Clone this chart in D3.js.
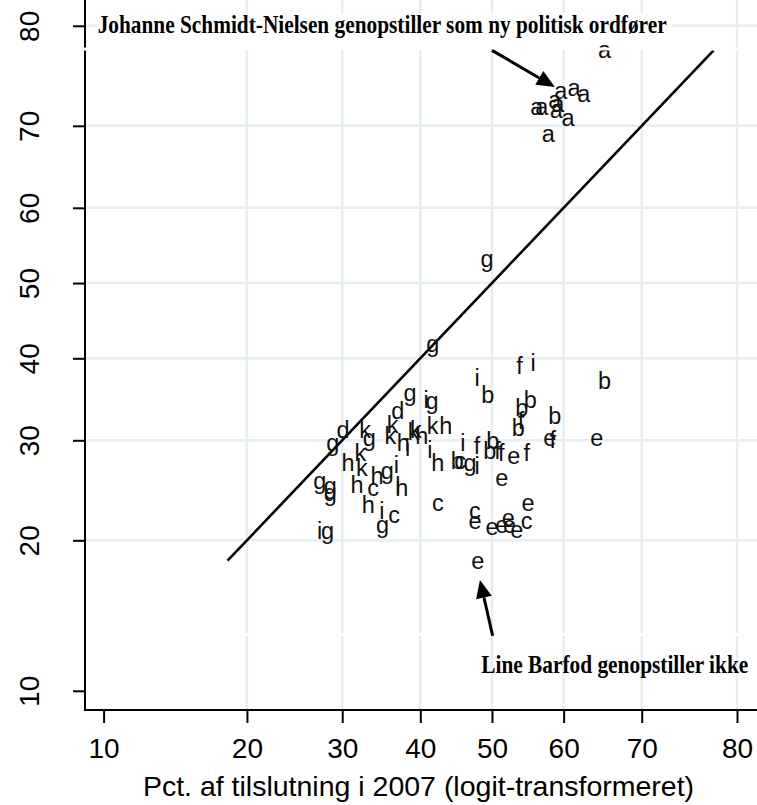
<!DOCTYPE html>
<html>
<head>
<meta charset="utf-8">
<script src="https://cdn.jsdelivr.net/npm/d3@7"></script>
<style>
  body { margin: 0; background: #fff; }
  svg { display: block; }
</style>
</head>
<body>
<div id="chart"></div>
<script>
// Party letter, share in 2007 (x) and share now (y), both in percent
const parties = [
    "a","a","a","a","a","a","a","a","a","a","a",
    "b","b","b","b","b","b","b","b","b",
    "c","c","c","c","c","c",
    "d","d",
    "e","e","e","e","e","e","e","e","e","e","e","e",
    "f","f","f","f","f","f","f",
    "g","g","g","g","g","g","g","g","g","g","g","g","g",
    "h","h","h","h","h","h","h","h","h",
    "i","i","i","i","i","i","i","i","i","i","i",
    "k","k","k","k","k","k","k","k"
];
const pct2007 = [
    65.4, 59.6, 61.4, 62.7, 56.3, 57.0, 58.8, 59.2, 59.0, 60.6, 57.9,
    49.4, 65.4, 55.4, 54.2, 58.8, 53.7, 50.1, 49.7, 45.1,
    33.8, 36.5, 42.4, 45.5, 47.6, 54.9,
    37.0, 30.1,
    58.1, 64.4, 53.1, 51.4, 55.1, 47.6, 50.0, 51.4, 52.3, 52.5, 53.5, 48.0,
    53.9, 54.1, 58.5, 47.9, 50.8, 51.3, 54.9,
    38.6, 41.6, 33.3, 28.9, 35.6, 27.4, 28.6, 28.6, 35.0, 28.3, 49.3, 41.7, 46.9,
    43.5, 37.7, 40.2, 42.4, 30.7, 34.3, 31.8, 37.5, 33.2,
    40.8, 55.8, 47.9, 38.3, 41.3, 36.8, 37.0, 34.9, 27.4, 45.9, 47.9,
    36.3, 39.1, 39.4, 41.7, 36.0, 32.8, 32.2, 32.4
];
const pctNow = [
    77.6, 73.6, 73.9, 73.3, 71.9, 71.9, 72.6, 72.2, 71.5, 70.6, 68.8,
    35.1, 36.8, 34.5, 33.5, 32.6, 31.2, 29.7, 28.6, 27.5,
    24.7, 22.1, 23.2, 27.5, 22.5, 21.5,
    33.2, 30.9,
    30.0, 30.0, 28.0, 25.7, 23.2, 21.5, 21.0, 21.2, 21.8, 21.2, 20.7, 18.1,
    38.7, 32.0, 29.8, 29.1, 28.6, 28.4, 28.4,
    35.4, 34.4, 30.0, 29.5, 26.4, 25.4, 24.9, 24.2, 21.2, 20.6, 53.0, 41.6, 27.3,
    31.4, 29.5, 30.3, 27.3, 27.3, 25.9, 25.0, 24.7, 23.0,
    34.5, 39.1, 37.2, 28.9, 28.7, 27.1, 24.9, 22.5, 20.6, 29.5, 27.0,
    31.5, 30.7, 30.9, 31.4, 30.3, 30.9, 28.4, 26.7
];
const tickLabels = [10, 20, 30, 40, 50, 60, 70, 80];
const gridLabels = [20, 30, 40, 50, 60, 70, 80];
const diagonalRange = [18.3, 77.8];   // y = x reference line

const noteTexts = [
    "Johanne Schmidt-Nielsen genopstiller som ny politisk ordfører",
    "Line Barfod genopstiller ikke"
];
const noteX = [9.7, 81.0];
const noteY = [79.4, 10.9];
const arrowFromX = [50.0, 50.1];
const arrowFromY = [77.8, 13.0];
const arrowToX = [58.8, 48.3];
const arrowToY = [74.2, 16.8];

const xTitle = "Pct. af tilslutning i 2007 (logit-transformeret)";

const width = 757;
const height = 805;

const logit = p => Math.log(p / (100 - p));
const unlogit = v => 100 / (1 + Math.exp(-v));

const x = d3.scaleLinear()
    .domain([logit(10), logit(80)])
    .range([103.6, 737]);
const y = d3.scaleLinear()
    .domain([logit(10), logit(80)])
    .range([690.8, 25.8]);

const left = 85;
const bottom = 710;
const gridColor = "#e6eef1";

const svg = d3.select("#chart")
    .append("svg")
    .attr("width", width)
    .attr("height", height)
    .style("background", "#fff");

// gridlines
svg.append("g")
    .selectAll("line")
    .data(gridLabels)
    .join("line")
    .attr("x1", d => x(logit(d)))
    .attr("x2", d => x(logit(d)))
    .attr("y1", 0)
    .attr("y2", bottom)
    .attr("stroke", gridColor)
    .attr("stroke-width", 2.5);

svg.append("g")
    .selectAll("line")
    .data(gridLabels)
    .join("line")
    .attr("x1", left)
    .attr("x2", width)
    .attr("y1", d => y(logit(d)))
    .attr("y2", d => y(logit(d)))
    .attr("stroke", gridColor)
    .attr("stroke-width", 2.5);

// white strips (text box behind the first note, and a thin band)
svg.append("rect").attr("x", 97).attr("y", 13).attr("width", 575).attr("height", 35).attr("fill", "#fff");
svg.append("rect").attr("x", 86).attr("y", 633).attr("width", width - 86).attr("height", 3).attr("fill", "#fff");

// y = x line
svg.append("line")
    .attr("x1", x(logit(diagonalRange[0])))
    .attr("y1", y(logit(diagonalRange[0])))
    .attr("x2", x(logit(diagonalRange[1])))
    .attr("y2", y(logit(diagonalRange[1])))
    .attr("stroke", "#000")
    .attr("stroke-width", 2.6);

// letter markers
svg.append("g")
    .selectAll("text")
    .data(d3.range(parties.length))
    .join("text")
    .attr("x", i => x(logit(pct2007[i])))
    .attr("y", i => y(logit(pctNow[i])))
    .attr("dy", 6)
    .attr("text-anchor", "middle")
    .attr("font-family", "'Liberation Sans', Arial, sans-serif")
    .attr("font-size", 23.5)
    .attr("fill", "#111")
    .text(i => parties[i]);

// axes
const xAxis = d3.axisBottom(x)
    .tickValues(tickLabels.map(logit))
    .tickFormat(d => Math.round(unlogit(d)))
    .tickSizeInner(13)
    .tickSizeOuter(0)
    .tickPadding(15);

const gx = svg.append("g")
    .attr("transform", `translate(0,${bottom})`)
    .call(xAxis);
gx.select(".domain").remove();
gx.selectAll("line").attr("stroke", "#000").attr("stroke-width", 2);
gx.selectAll("text")
    .attr("font-family", "'Liberation Sans', Arial, sans-serif")
    .attr("font-size", 28)
    .attr("fill", "#000");

const yAxis = d3.axisLeft(y)
    .tickValues(tickLabels.map(logit))
    .tickFormat(d => Math.round(unlogit(d)))
    .tickSizeInner(12)
    .tickSizeOuter(0);

const gy = svg.append("g")
    .attr("transform", `translate(${left},0)`)
    .call(yAxis);
gy.select(".domain").remove();
gy.selectAll("line").attr("stroke", "#000").attr("stroke-width", 2);
gy.selectAll("text")
    .attr("x", 0)
    .attr("y", -46)
    .attr("dy", 0)
    .attr("transform", "rotate(-90)")
    .attr("text-anchor", "middle")
    .attr("font-family", "'Liberation Sans', Arial, sans-serif")
    .attr("font-size", 28)
    .attr("fill", "#000");

svg.append("line")
    .attr("x1", left).attr("x2", width)
    .attr("y1", bottom).attr("y2", bottom)
    .attr("stroke", "#000").attr("stroke-width", 2);
svg.append("line")
    .attr("x1", left).attr("x2", left)
    .attr("y1", 0).attr("y2", bottom + 1)
    .attr("stroke", "#000").attr("stroke-width", 2);

// thin white band near the top
svg.append("rect").attr("x", 70).attr("y", 47.5).attr("width", width - 70).attr("height", 3).attr("fill", "#fff");

// axis title
svg.append("text")
    .attr("x", 418.5)
    .attr("y", 796)
    .attr("text-anchor", "middle")
    .attr("font-family", "'Liberation Sans', Arial, sans-serif")
    .attr("font-size", 28.5)
    .attr("fill", "#000")
    .text(xTitle);

// notes
const noteAnchor = ["start", "end"];
const noteLength = [569, 267];
svg.append("g")
    .selectAll("text")
    .data(noteTexts)
    .join("text")
    .attr("x", (d, i) => x(logit(noteX[i])))
    .attr("y", (d, i) => y(logit(noteY[i])))
    .attr("text-anchor", (d, i) => noteAnchor[i])
    .attr("textLength", (d, i) => noteLength[i])
    .attr("lengthAdjust", "spacingAndGlyphs")
    .attr("font-family", "'Liberation Serif', 'Times New Roman', serif")
    .attr("font-weight", "bold")
    .attr("font-size", 24.5)
    .attr("fill", "#000")
    .text(d => d);

// arrows
const headLen = 18;
const headHalf = 8;
noteTexts.forEach((d, i) => {
    const x0 = x(logit(arrowFromX[i]));
    const y0 = y(logit(arrowFromY[i]));
    const x1 = x(logit(arrowToX[i]));
    const y1 = y(logit(arrowToY[i]));
    const ang = Math.atan2(y1 - y0, x1 - x0);
    const bx = x1 - headLen * Math.cos(ang);
    const by = y1 - headLen * Math.sin(ang);
    svg.append("line")
        .attr("x1", x0).attr("y1", y0)
        .attr("x2", bx).attr("y2", by)
        .attr("stroke", "#000")
        .attr("stroke-width", 3);
    const pts = [
        [x1, y1],
        [bx + headHalf * Math.sin(ang), by - headHalf * Math.cos(ang)],
        [bx - headHalf * Math.sin(ang), by + headHalf * Math.cos(ang)]
    ];
    svg.append("polygon")
        .attr("points", pts.map(p => p.join(",")).join(" "))
        .attr("fill", "#000");
});
</script>
</body>
</html>
